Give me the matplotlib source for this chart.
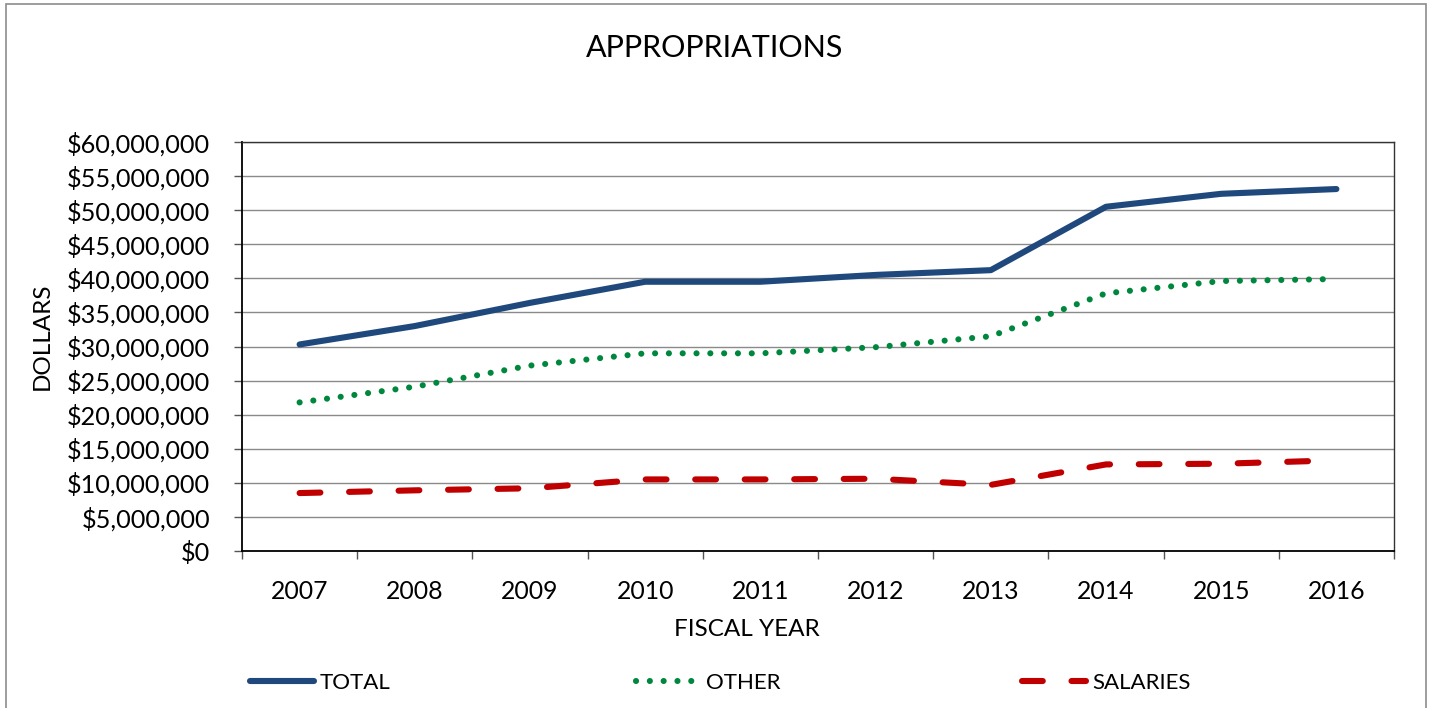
import matplotlib
matplotlib.use("Agg")
import matplotlib.pyplot as plt
from matplotlib.patches import Rectangle
from matplotlib.ticker import FuncFormatter, FixedLocator

plt.rcParams['font.family'] = ['Lato', 'DejaVu Sans']

years = ["2007", "2008", "2009", "2010", "2011", "2012", "2013", "2014", "2015", "2016"]
total = [30.3e6, 33.0e6, 36.4e6, 39.5e6, 39.5e6, 40.5e6, 41.2e6, 50.5e6, 52.4e6, 53.1e6]
other = [21.8e6, 24.1e6, 27.2e6, 29.0e6, 29.0e6, 29.9e6, 31.5e6, 37.8e6, 39.6e6, 39.9e6]
salaries = [8.5e6, 8.9e6, 9.2e6, 10.5e6, 10.5e6, 10.6e6, 9.7e6, 12.7e6, 12.8e6, 13.3e6]

W, H = 1430, 708
fig = plt.figure(figsize=(W / 100, H / 100), dpi=100)

# chart-area border
fig.patches.append(Rectangle((6 / W, -0.01), (1426 - 6) / W, (H - 4) / H + 0.01,
                             transform=fig.transFigure, fill=False,
                             edgecolor="#8c8c8c", linewidth=1.2))

left, right, top, bottom = 242, 1394, 142, 551
ax = fig.add_axes([left / W, (H - bottom) / H, (right - left) / W, (bottom - top) / H])

x = list(range(len(years)))
lw = 4.4
ax.plot(x, total, color="#1F497D", lw=lw, solid_capstyle="round",
        solid_joinstyle="round", label="TOTAL", zorder=3)
ax.plot(x, other, color="#00873E", lw=lw, linestyle=(0, (0.01, 2.25)),
        dash_capstyle="round", label="OTHER", zorder=3)
ax.plot(x, salaries, color="#C00000", lw=lw, linestyle=(0, (3.4, 4.7)),
        dash_capstyle="round", label="SALARIES", zorder=3)

ax.set_xlim(-0.5, len(years) - 0.5)
ax.set_ylim(0, 60e6)
ax.set_yticks([i * 5e6 for i in range(13)])
ax.yaxis.set_major_formatter(FuncFormatter(lambda v, p: "${:,.0f}".format(v)))
ax.grid(axis="y", color="#8a8a8a", linewidth=1.0)
ax.set_axisbelow(True)

# category boundaries carry the tick marks, labels sit between them
ax.xaxis.set_major_locator(FixedLocator([i - 0.5 for i in range(len(years) + 1)]))
ax.xaxis.set_major_formatter(FuncFormatter(lambda v, p: ""))
ax.xaxis.set_minor_locator(FixedLocator(x))
ax.set_xticklabels(years, minor=True)
ax.tick_params(axis="x", which="major", direction="out", length=6, width=1, color="#555555")
ax.tick_params(axis="x", which="minor", length=0, pad=21, labelsize=17.8)
ax.tick_params(axis="y", direction="out", length=6, width=1, color="#555555",
               pad=17, labelsize=18.2)

for side in ["left", "bottom"]:
    ax.spines[side].set_color("black")
    ax.spines[side].set_linewidth(1.3)
for side in ["top", "right"]:
    ax.spines[side].set_color("#333333")
    ax.spines[side].set_linewidth(1.0)

ax.set_xlabel("FISCAL YEAR", fontsize=17.5, va="center")
ax.xaxis.set_label_coords((747 - left) / (right - left), -(630 - bottom) / (bottom - top))
ax.set_ylabel("DOLLARS", fontsize=17.5, va="center")
ax.yaxis.set_label_coords((42 - left) / (right - left), (bottom - 336) / (bottom - top))

fig.text(715 / W, 1 - 48 / H, "APPROPRIATIONS", fontsize=22, ha="center", va="center")

handles, labels = ax.get_legend_handles_labels()
for h, lab, xpos in zip(handles, labels, [250, 636, 1022]):
    fig.legend([h], [lab], loc="center left", bbox_to_anchor=(xpos / W, 1 - 683 / H),
               frameon=False, fontsize=16, handlelength=2.9, handletextpad=0.25,
               borderpad=0, borderaxespad=0)

fig.savefig("out.png", dpi=100)
